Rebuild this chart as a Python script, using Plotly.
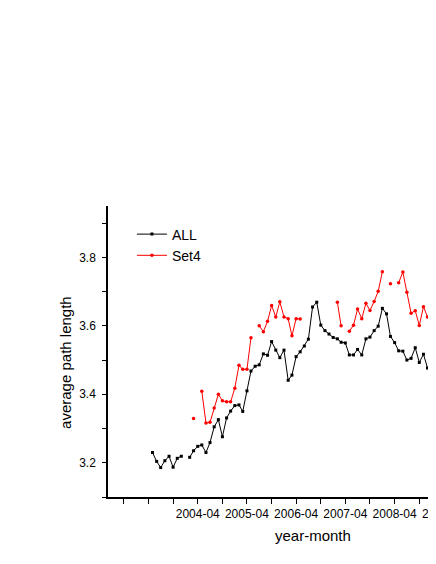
import pandas as pd
import plotly.graph_objects as go

# monthly samples, 2003-05 .. 2009-02
months = pd.date_range("2003-05-01", periods=70, freq="MS")

all_vals = [
    3.230, 3.204, 3.186, 3.206, 3.219, 3.187, 3.213, 3.219, None, 3.216,
    3.235, 3.248, 3.252, 3.230, 3.259, 3.305, 3.326, 3.276, 3.331, 3.351,
    3.367, 3.369, 3.350, 3.410, 3.468, 3.482, 3.486, 3.518, 3.514, 3.554,
    3.529, 3.507, 3.529, 3.441, 3.456, 3.510, 3.524, 3.541, 3.561, 3.655,
    3.669, 3.602, 3.586, 3.576, 3.566, 3.562, 3.552, 3.550, 3.515, 3.515,
    3.531, 3.515, 3.562, 3.567, 3.586, 3.599, 3.651, 3.635, 3.569, 3.551,
    3.527, 3.526, 3.500, 3.505, 3.536, 3.493, 3.517, 3.477, 3.455, 3.473,
]

set4_vals = [
    None, None, None, None, None, None, None, None, None, None,
    3.329, None, 3.409, 3.316, 3.318, 3.360, 3.400, 3.381, 3.378, 3.378,
    3.418, 3.485, 3.473, 3.473, 3.565, None, 3.600, 3.583, 3.613, 3.659,
    3.626, 3.670, 3.626, 3.621, 3.571, 3.621, 3.620, None, None, None,
    None, None, None, None, None, 3.669, 3.600, None, 3.584, 3.602,
    3.649, 3.621, 3.666, 3.645, 3.671, 3.701, 3.758, None, 3.723, None,
    3.726, 3.757, 3.698, 3.637, 3.644, 3.601, 3.656, 3.626, 3.612, 3.613,
]

tick_vals = pd.date_range("2002-10-01", "2008-10-01", freq="6MS")
tick_text = ["", "", "", "2004-04", "", "2005-04", "", "2006-04", "",
             "2007-04", "", "2008-04", ""]
cut_label = "2009-04"

x_range = [pd.Timestamp("2002-06-05"), pd.Timestamp("2009-02-02")]
font = "Arial, Liberation Sans, sans-serif"

fig = go.Figure()
fig.add_trace(go.Scatter(
    x=months, y=all_vals, name="ALL", mode="lines+markers",
    line=dict(color="black", width=1),
    marker=dict(symbol="square", size=3, color="black"),
))
fig.add_trace(go.Scatter(
    x=months, y=set4_vals, name="Set4", mode="lines+markers",
    line=dict(color="red", width=1),
    marker=dict(symbol="circle", size=3.5, color="red"),
))

span = (x_range[1] - x_range[0]).total_seconds()
cut_x = (pd.Timestamp(cut_label + "-01") - x_range[0]).total_seconds() / span

# the page body adds 8px, so the figure is 8px smaller than the window
fig.update_layout(
    width=428, height=556,
    margin=dict(l=100, r=0, t=198, b=67, pad=0),
    template="none",
    paper_bgcolor="white", plot_bgcolor="white",
    font=dict(family=font, size=12, color="black"),
    showlegend=True,
    legend=dict(x=0.073, y=0.957, xanchor="left", yanchor="top",
                bgcolor="rgba(0,0,0,0)", font=dict(size=14),
                itemwidth=30, tracegroupgap=0),
    xaxis=dict(
        range=x_range, showgrid=False, zeroline=False,
        showline=True, linecolor="black", linewidth=1.5,
        ticks="outside", ticklen=5, tickwidth=1, tickcolor="black",
        tickvals=tick_vals, ticktext=tick_text, automargin=False,
    ),
    yaxis=dict(
        range=[3.1, 3.95], showgrid=False, zeroline=False,
        showline=True, linecolor="black", linewidth=1.5,
        ticks="outside", ticklen=4, tickwidth=1, tickcolor="black",
        tick0=3.2, dtick=0.2, tickformat=".1f", automargin=False,
        ticklabelstandoff=4,
        minor=dict(ticks="outside", ticklen=4, dtick=0.1, tick0=3.1,
                   tickcolor="black", showgrid=False),
    ),
    annotations=[
        dict(text=cut_label, xref="paper", yref="paper", x=cut_x, y=0,
             xanchor="center", yanchor="top", yshift=-8,
             showarrow=False, font=dict(size=12)),
        dict(text="year-month", xref="paper", yref="paper", x=0.6246,
             y=-0.134, xanchor="center", yanchor="middle",
             showarrow=False, font=dict(size=15)),
        dict(text="average path length", xref="paper", yref="paper",
             x=-0.13, y=0.462, xanchor="center", yanchor="middle",
             textangle=-90, showarrow=False, font=dict(size=15)),
    ],
)

fig.write_html("out.html")
